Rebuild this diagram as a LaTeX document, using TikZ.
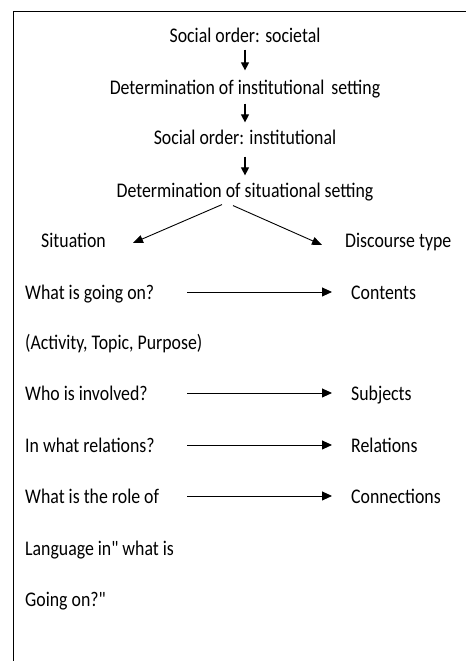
\documentclass[tikz,border=0pt]{standalone}
\usepackage{fontspec}
\setmainfont{Carlito}[Ligatures=TeXOff]
\usepackage{tikz}
\usetikzlibrary{positioning,arrows.meta,calc}

\begin{document}
\begin{tikzpicture}[
  x=1pt, y=1pt,
  txt/.style={font=\fontsize{17.8}{20}\selectfont, inner sep=0pt,
              text height=14pt, text depth=2pt,
              yscale=1.17, transform shape},
  varr/.style={-{Triangle[length=8pt,width=8pt]}, line width=1.2pt},
  darr/.style={-{Triangle[length=10pt,width=8pt]}, line width=0.9pt},
  harr/.style={-{Triangle[length=10pt,width=9pt]}, line width=0.9pt}
]
\useasboundingbox (0,0) rectangle (466,-661);

%% --- Frame -----------------------------------------------------
\draw[line width=1pt] (13,-661) -- (13,-12) -- (466,-12);

%% --- Central chain ---------------------------------------------
\node[txt, anchor=base] (soc)     at (245,-43)  {Social order: societal};
\node[txt, anchor=base] (instset) at (245,-95)  {Determination of institutional\hspace{3pt} setting};
\node[txt, anchor=base] (inst)    at (245,-144) {Social order: institutional};
\node[txt, anchor=base] (sitset)  at (245,-197) {Determination of situational setting};

\draw[varr, shorten <=4pt,  shorten >=8pt] (soc.south)     -- (instset.north);
\draw[varr, shorten <=6pt,  shorten >=5pt] (instset.south) -- (inst.north);
\draw[varr, shorten <=10pt, shorten >=5pt] (inst.south)    -- (sitset.north);

%% --- Split -----------------------------------------------------
\node[txt, anchor=base west] (situation) at (41,-247)  {Situation};
\node[txt, anchor=base west] (dtype)     at (345,-247) {Discourse type};

\draw[darr] ([xshift=-23pt,yshift=-5pt]sitset.south)
         -- ([xshift=27pt,yshift=-3pt]situation.east);
\draw[darr] ([xshift=-12pt,yshift=-6pt]sitset.south)
         -- ([xshift=-23pt,yshift=-5pt]dtype.west);

%% --- Left column: questions -------------------------------------
\node[txt, anchor=base west] (goingon)  at (25,-299) {What is going on?};
\node[txt, anchor=base west] (activity) at (25,-349) {(Activity, Topic, Purpose)};
\node[txt, anchor=base west] (involved) at (25,-400) {Who is involved?};
\node[txt, anchor=base west] (relq)     at (25,-452) {In what relations?};
\node[txt, anchor=base west] (roleq)    at (25,-503) {What is the role of};
\node[txt, anchor=base west] (langq)    at (25,-555) {Language in" what is};
\node[txt, anchor=base west] (goingq)   at (25,-606) {Going on?"};

%% --- Right column: discourse parts -------------------------------
\node[txt, anchor=base west] (contents)    at (351,-299) {Contents};
\node[txt, anchor=base west] (subjects)    at (351,-400) {Subjects};
\node[txt, anchor=base west] (relations)   at (351,-452) {Relations};
\node[txt, anchor=base west] (connections) at (351,-503) {Connections};

%% --- Horizontal arrows ------------------------------------------
\coordinate (lcol) at (187,0);
\coordinate (rcol) at (332,0);
\draw[harr] (goingon.east -| lcol)  -- (contents.west -| rcol);
\draw[harr] (involved.east -| lcol) -- (subjects.west -| rcol);
\draw[harr] (relq.east -| lcol)     -- (relations.west -| rcol);
\draw[harr] (roleq.east -| lcol)    -- (connections.west -| rcol);

\end{tikzpicture}
\end{document}
